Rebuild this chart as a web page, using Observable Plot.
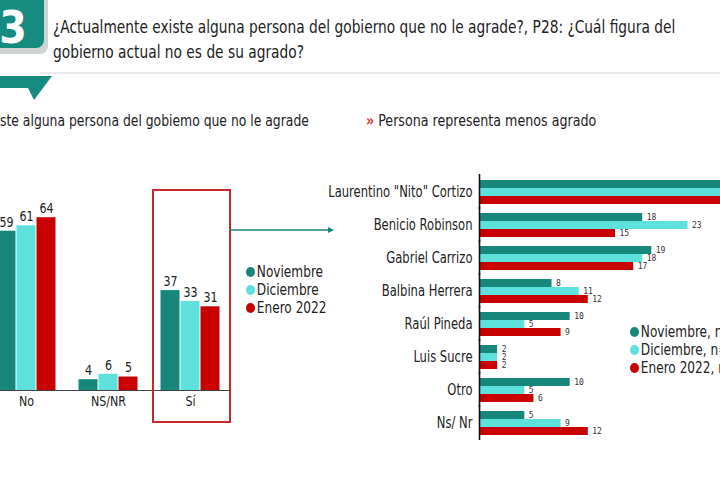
<!DOCTYPE html>
<html><head><meta charset="utf-8">
<script src="https://cdn.jsdelivr.net/npm/d3@7"></script>
<script src="https://cdn.jsdelivr.net/npm/@observablehq/plot@0.6"></script>
<style>
html,body{margin:0;padding:0;width:720px;height:500px;overflow:hidden;background:#fff;}
body{position:relative;font-family:"DejaVu Sans",sans-serif;font-stretch:condensed;color:#222;}
.abs{position:absolute;}
.sq{transform-origin:left center;white-space:nowrap;}
#t1{left:53px;top:14px;font-size:18px;line-height:25px;color:#222;transform:scaleX(0.85);}
#t2{left:53px;top:39px;font-size:18px;line-height:25px;color:#222;transform:scaleX(0.85);}
.sub{font-size:16px;color:#222;}
.leg{font-size:15px;line-height:18px;}
.leg div{display:flex;align-items:center;}
.leg span.d{display:inline-block;width:10px;height:10px;border-radius:50%;margin-right:2px;}
</style></head>
<body>
<script>
const months = ["Noviembre", "Diciembre", "Enero 2022"];
const colors = ["#17877c", "#5ee0dd", "#c80000"];

// Left chart: ¿Actualmente existe alguna persona del gobierno que no le agrade?
const answers = ["No", "NS/NR", "Sí"];
const novAnswer = [59, 4, 37];
const dicAnswer = [61, 6, 33];
const eneAnswer = [64, 5, 31];

// Right chart: Persona representa menos agrado
const persons = ["Laurentino \"Nito\" Cortizo", "Benicio Robinson", "Gabriel Carrizo", "Balbina Herrera", "Raúl Pineda", "Luis Sucre", "Otro", "Ns/ Nr"];
const novPerson = [33, 18, 19, 8, 10, 2, 10, 5];
const dicPerson = [32, 23, 18, 11, 5, 2, 5, 9];
const enePerson = [34, 15, 17, 12, 9, 2, 6, 12];
const legendRight = ["Noviembre, n=", "Diciembre, n=", "Enero 2022, n="];

const FONT = "DejaVu Sans, sans-serif";

const leftData = [];
answers.forEach((a, i) => {
  [novAnswer, dicAnswer, eneAnswer].forEach((s, j) => leftData.push({answer: a, month: months[j], value: s[i]}));
});
const rightData = [];
persons.forEach((p, i) => {
  [novPerson, dicPerson, enePerson].forEach((s, j) => rightData.push({person: p, month: months[j], value: s[i]}));
});

const left = Plot.plot({
  width: 250, height: 229,
  marginLeft: 12, marginRight: 12, marginTop: 10, marginBottom: 30,
  style: {fontFamily: FONT, fontStretch: "condensed", fontSize: "14px", color: "#222", background: "transparent", overflow: "visible"},
  fx: {domain: answers, paddingInner: 0.244, paddingOuter: 0, label: null, tickSize: 0, tickPadding: 6},
  x: {domain: months, padding: 0, axis: null},
  y: {domain: [0, 70], axis: null},
  color: {domain: months, range: colors},
  marks: [
    Plot.barY(leftData, {fx: "answer", x: "month", y: "value", fill: "month", insetLeft: 0.5, insetRight: 0.5}),
    Plot.text(leftData, {fx: "answer", x: "month", y: "value", text: d => d.value, dy: -9, fontSize: 14, fill: "#222"}),
    Plot.ruleY([0], {stroke: "#444", strokeWidth: 1.2, insetLeft: -10, insetRight: -10})
  ]
});
left.style.position = "absolute";
left.style.left = "-17px";
left.style.top = "191px";
document.body.appendChild(left);

const right = Plot.plot({
  width: 462, height: 277,
  marginLeft: 160, marginRight: 30, marginTop: 5, marginBottom: 10,
  style: {fontFamily: FONT, fontStretch: "condensed", fontSize: "15.5px", color: "#222", background: "transparent", overflow: "visible"},
  fy: {domain: persons, paddingInner: 0.18, paddingOuter: 0, label: null, tickSize: 0, tickPadding: 7},
  y: {domain: months, padding: 0.04, axis: null},
  x: {domain: [0, 30], axis: null},
  color: {domain: months, range: colors},
  marks: [
    Plot.barX(rightData, {fy: "person", y: "month", x: "value", fill: "month"}),
    Plot.text(rightData, {fy: "person", y: "month", x: "value", text: d => d.value, dx: 4, textAnchor: "start", fontSize: 8, fill: "#333", fontFamily: "DejaVu Sans Mono, monospace"}),
    Plot.ruleX([0], {stroke: "#111", strokeWidth: 1.6, insetTop: -4, insetBottom: -4})
  ]
});
right.style.position = "absolute";
right.style.left = "319px";
right.style.top = "171px";
document.body.appendChild(right);

// narrow the condensed glyphs further to match the original's condensed typeface
function squeeze(svg, ratio) {
  svg.querySelectorAll("text").forEach(t => {
    if (t.querySelector("tspan")) return;
    const len = t.getComputedTextLength();
    if (len > 0) {
      t.setAttribute("textLength", (len * ratio).toFixed(2));
      t.setAttribute("lengthAdjust", "spacingAndGlyphs");
    }
  });
}
</script>

<!-- header decoration -->
<svg class="abs" style="left:0;top:0" width="720" height="110">
  <rect x="-14" y="-12" width="62" height="66" rx="8" fill="#cfd3d3"/>
  <rect x="-14" y="-14" width="58" height="62" rx="8" fill="#168b80"/>
  <text x="13" y="43" font-size="44" font-weight="bold" fill="#fff" text-anchor="middle" font-family="DejaVu Sans, sans-serif" font-stretch="condensed">3</text>
  <line x1="40" y1="73" x2="720" y2="73" stroke="#e2e2e2" stroke-width="1.5"/>
  <polygon points="0,76 52,76 34,100 28,88 0,88" fill="#168b80"/>
</svg>
<div class="abs sq" id="t1">¿Actualmente existe alguna persona del gobierno que no le agrade?, P28: ¿Cuál figura del</div>
<div class="abs sq" id="t2">gobierno actual no es de su agrado?</div>

<div class="abs sub sq" style="left:0;top:111px;transform:scaleX(0.86);">ste alguna persona del gobiemo que no le agrade</div>
<div class="abs sub sq" style="left:366px;top:111px;transform:scaleX(0.88);"><span style="color:#d2372d;font-weight:bold;">»</span> Persona representa menos agrado</div>

<!-- highlight box and arrow -->
<div class="abs" style="left:152px;top:189px;width:75px;height:230px;border:2px solid #c9262c;"></div>
<svg class="abs" style="left:230px;top:224px" width="110" height="12">
  <line x1="0" y1="6" x2="100" y2="6" stroke="#17877c" stroke-width="1.5"/>
  <polygon points="98,3 104,6 98,9" fill="#17877c"/>
</svg>

<!-- left legend -->
<div class="abs leg sq" style="left:246px;top:263px;transform:scaleX(0.9);">
  <div><span class="d" style="background:#17877c"></span>Noviembre</div>
  <div><span class="d" style="background:#5ee0dd"></span>Diciembre</div>
  <div><span class="d" style="background:#c80000"></span>Enero 2022</div>
</div>
<!-- right legend -->
<div class="abs leg sq" style="left:630px;top:323px;transform:scaleX(0.9);" id="rleg"></div>
<script>
const rl = document.getElementById("rleg");
legendRight.forEach((t, i) => {
  const d = document.createElement("div");
  d.innerHTML = `<span class="d" style="background:${colors[i]}"></span>${t}`;
  rl.appendChild(d);
});
squeeze(left, 0.88);
right.querySelectorAll('g[aria-label="fy-axis tick label"] text').forEach(t => {
  const len = t.getComputedTextLength();
  t.setAttribute("textLength", (len * 0.83).toFixed(2));
  t.setAttribute("lengthAdjust", "spacingAndGlyphs");
});
</script>
</body></html>
